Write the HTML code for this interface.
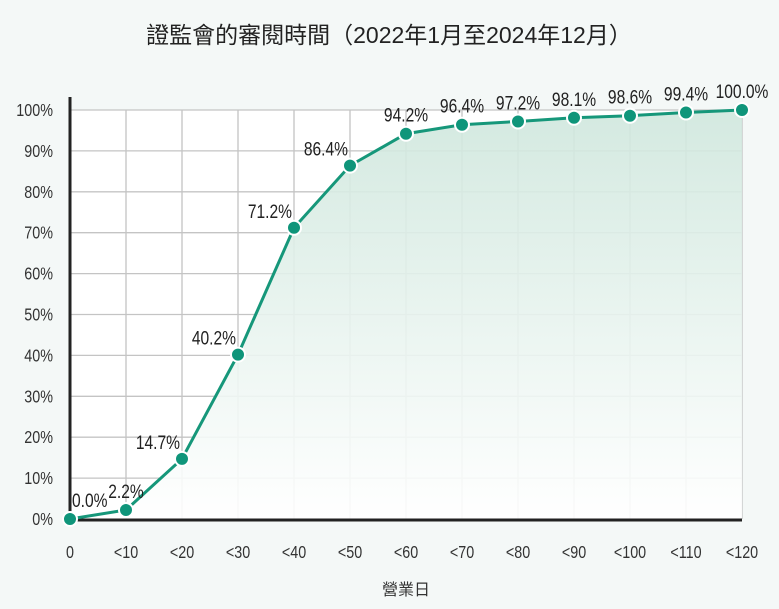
<!DOCTYPE html>
<html><head><meta charset="utf-8"><style>
body{margin:0;background:#f4f8f7;}
svg{display:block;font-family:"Liberation Sans","Noto Sans CJK TC",sans-serif;}
</style></head><body>
<svg id="chart" width="779" height="609">
<defs><linearGradient id="g" x1="0" y1="0" x2="0" y2="1"><stop offset="0" stop-color="#cfe7dd"/><stop offset="1" stop-color="#ffffff"/></linearGradient></defs>
<text x="389" y="43" text-anchor="middle" font-size="23" fill="#222" font-family="'Liberation Sans','Noto Sans CJK TC',sans-serif">證監會的審閱時間（2022年1月至2024年12月）</text>
<g id="plot"></g>
<text x="406" y="595" text-anchor="middle" font-size="16" fill="#333" font-family="'Liberation Sans','Noto Sans CJK TC',sans-serif">營業日</text>
</svg>
<script>
const categories=["0","<10","<20","<30","<40","<50","<60","<70","<80","<90","<100","<110","<120"];
const values=[0,2.2,14.7,40.2,71.2,86.4,94.2,96.4,97.2,98.1,98.6,99.4,100];
const yTicks=[0,10,20,30,40,50,60,70,80,90,100];
const NS="http://www.w3.org/2000/svg";
const L=70,R=742,T=110,B=519;
const x=i=>L+i*(R-L)/(categories.length-1);
const y=v=>B-(v/100)*(B-T);
const g=document.getElementById('plot');
function mk(t,a){const e=document.createElementNS(NS,t);for(const k in a)e.setAttribute(k,a[k]);g.appendChild(e);return e;}
function txt(px,py,anc,size,s,col){
 const e=mk('text',{x:0,y:0,'text-anchor':anc,'font-size':size,fill:col,transform:'translate('+px+','+py+') scale(0.82,1)'});
 e.textContent=s;return e;}
let bg=mk('rect',{x:L,y:T,width:R-L,height:B-T,fill:'#fff'});


yTicks.forEach(t=>{
 let l=mk('line',{x1:L,x2:R,y1:y(t),y2:y(t),stroke:'#c4c4c4','stroke-width':1.3});
 
 
 let tx=txt(L-17,y(t)+6,'end',17.5,t+'%','#333');
 
 
});
categories.forEach((c,i)=>{
 if(i>0){let l=mk('line',{x1:x(i),x2:x(i),y1:T,y2:B,stroke:'#c4c4c4','stroke-width':1.3});
 
 }
 let tx=txt(x(i),558,'middle',17.5,c,'#333');
 
 
});
let pts=values.map((v,i)=>x(i)+','+y(v));
let area=mk('polygon',{points:x(0)+','+B+' '+pts.join(' ')+' '+x(values.length-1)+','+B,fill:'url(#g)',opacity:0.9});


let ya=mk('line',{x1:L,x2:L,y1:97,y2:B+1,stroke:'#222','stroke-width':3});


let xa=mk('line',{x1:L-1,x2:R,y1:B+1,y2:B+1,stroke:'#222','stroke-width':3});


let line=mk('polyline',{points:pts.join(' '),fill:'none',stroke:'#16977a','stroke-width':3});


values.forEach((v,i)=>{
 let c=mk('circle',{cx:x(i),cy:y(v),r:7,fill:'#0f957a',stroke:'#fff','stroke-width':2});
 
 
 let lx=x(i),ly=y(v)-12,anc='middle';
 if(i===0){lx=x(i)+2;anc='start';}
 else if(i>=2&&i<=5){lx=x(i)-2;anc='end';ly=y(v)-10;}
 let t=txt(lx,ly,anc,19,v.toFixed(1)+'%','#222');
 
 
});
</script>
</body></html>
